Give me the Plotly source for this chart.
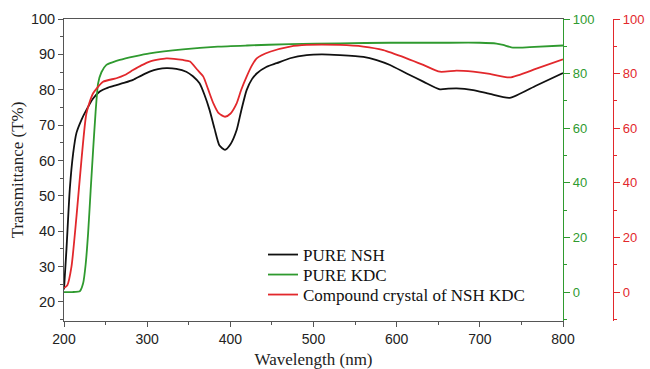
import plotly.graph_objects as go

# ---- data ----
nsh_wl = [200, 203, 207, 211, 215, 221, 227, 235, 243, 253, 263, 273, 283, 293, 303, 313, 323,
          335, 347, 355, 363, 369, 375, 381, 387, 393.6, 400, 407.6, 413, 419.6, 426, 431.7,
          443.7, 455.7, 471.8, 491.8, 510, 531.8, 560, 576, 592, 612, 632, 652, 662, 672,
          692, 712, 736, 768, 800]
nsh_t = [23.5, 35, 52, 62, 67.8, 71.5, 74.3, 77.5, 79.5, 80.6, 81.3, 82, 82.8, 84, 85.1, 85.8, 86.1,
         85.9, 85.1, 83.8, 81.8, 78.5, 74.3, 69, 64.2, 63, 64.5, 68.6, 74, 79.9, 83, 84.6,
         86.5, 87.5, 88.9, 89.8, 90, 89.8, 89.3, 88.4, 87, 84.6, 82.3, 80.1, 80.3, 80.4,
         79.9, 78.8, 77.7, 81.2, 84.7]

kdc_wl = [200, 210, 219, 223, 226, 229, 232, 235, 238, 241, 245, 251, 259, 267, 285, 303, 343,
          385, 420, 472, 532, 592, 652, 700, 720, 728, 740, 760, 800]
kdc_t = [0, 0, 0.3, 3.2, 10, 21.6, 37, 52, 66, 76.4, 80.5, 83.2, 84.2, 85, 86.3, 87.4, 88.9,
         89.9, 90.3, 90.8, 91.1, 91.3, 91.3, 91.3, 91, 90.5, 89.5, 89.7, 90.3]

cmp_wl = [200, 204, 209, 215, 221, 227, 235, 247, 263, 273, 283, 293, 303, 323, 343, 351.5, 360,
          367.5, 373, 379.6, 386, 393.6, 400, 407.6, 413, 419.6, 426, 431.7, 447.7, 471.8, 491.8,
          531.8, 560, 584, 612, 632, 652, 672, 692, 712, 736, 768, 800]
cmp_t = [1.5, 2.5, 9.3, 27.6, 48.4, 65.5, 72.8, 77, 78.3, 79.5, 81.3, 83, 84.4, 85.6, 85, 84.4, 81.5,
         78.9, 74.5, 69.1, 65.5, 64.2, 65.3, 69.1, 74, 78.9, 83, 85.6, 88, 89.9, 90.5,
         90.5, 89.9, 88.6, 85.6, 83.2, 80.7, 81.1, 80.7, 79.9, 78.6, 81.8, 85.2]

x_ticks = [200, 300, 400, 500, 600, 700, 800]
left_ticks = [20, 30, 40, 50, 60, 70, 80, 90, 100]
right_ticks = [0, 20, 40, 60, 80, 100]

GREEN = "#2f9a2f"
RED = "#e2282c"
AXC = "#555555"
SANS = "Liberation Sans, Arial, sans-serif"
SERIF = "Liberation Serif, Times New Roman, serif"

fig = go.Figure()
fig.add_trace(go.Scatter(x=nsh_wl, y=nsh_t, mode="lines", name="PURE NSH",
                         line=dict(color="#111111", width=1.8, shape="spline", smoothing=0.6),
                         yaxis="y", legend="legend"))
fig.add_trace(go.Scatter(x=kdc_wl, y=kdc_t, mode="lines", name="PURE KDC",
                         line=dict(color=GREEN, width=1.8, shape="spline", smoothing=0.5),
                         yaxis="y2", legend="legend2"))
fig.add_trace(go.Scatter(x=cmp_wl, y=cmp_t, mode="lines", name="Compound crystal of NSH KDC",
                         line=dict(color=RED, width=1.8, shape="spline", smoothing=0.6),
                         yaxis="y3", legend="legend3"))

W, H = 650, 369
L, R, T, B = 64, 22, 19, 48
pw = W - L - R
ph = H - T - B
xdom_end = (563 - L) / pw
red_pos = (613 - L) / pw

def px(xp):  # window pixel -> paper
    return (xp - L) / pw

def py(yp):
    return (H - B - yp) / ph

leg_common = dict(bgcolor="rgba(0,0,0,0)", borderwidth=0,
                  font=dict(family=SERIF, size=17, color="#111111"),
                  xanchor="left", yanchor="middle", x=px(263))

fig.update_layout(
    width=W, height=H,
    margin=dict(l=L, r=R, t=T, b=B, autoexpand=False),
    paper_bgcolor="white", plot_bgcolor="white",
    showlegend=True,
    legend=dict(**leg_common, y=py(255)),
    legend2=dict(**leg_common, y=py(275)),
    legend3=dict(**leg_common, y=py(295)),
    xaxis=dict(domain=[0, xdom_end], range=[200, 800], tickvals=x_ticks, automargin=False,
               ticks="outside", ticklen=5, tickcolor=AXC, showline=True, linecolor=AXC,
               linewidth=1, mirror=True, showgrid=False, zeroline=False,
               minor=dict(dtick=50, tick0=0, ticks="outside", ticklen=3, tickcolor=AXC),
               tickfont=dict(family=SANS, size=14, color="#222222"),
               title=dict(text="Wavelength (nm)", font=dict(family=SERIF, size=17, color="#222222"),
                          standoff=21)),
    yaxis=dict(range=[14.6, 100], tickvals=left_ticks, ticks="outside", ticklen=5, automargin=False,
               tickcolor=AXC, showline=True, linecolor=AXC, linewidth=1,
               showgrid=False, zeroline=False,
               minor=dict(dtick=5, tick0=0, ticks="outside", ticklen=3, tickcolor=AXC),
               tickfont=dict(family=SANS, size=14.5, color="#222222"),
               title=dict(text="Transmittance (T%)", font=dict(family=SERIF, size=17, color="#222222"),
                          standoff=2)),
    yaxis2=dict(overlaying="y", side="right", anchor="x", range=[-10.6, 100], automargin=False,
                tickvals=right_ticks, ticks="outside", ticklen=6, tickcolor=GREEN,
                showline=True, linecolor=GREEN, linewidth=1.2, showgrid=False, zeroline=False,
                minor=dict(dtick=10, tick0=0, ticks="outside", ticklen=3, tickcolor=GREEN),
                tickfont=dict(family=SANS, size=13, color=GREEN)),
    yaxis3=dict(overlaying="y", side="right", anchor="free", position=red_pos, automargin=False,
                range=[-10.6, 100], tickvals=right_ticks, ticks="outside", ticklen=6,
                tickcolor=RED, showline=True, linecolor=RED, linewidth=1.2, showgrid=False,
                zeroline=False,
                minor=dict(dtick=10, tick0=0, ticks="outside", ticklen=3, tickcolor=RED),
                tickfont=dict(family=SANS, size=13, color=RED)),
)

fig.write_html("out.html", config={"displayModeBar": False},
               post_script="document.body.style.margin='0';document.body.style.overflow='hidden';")
